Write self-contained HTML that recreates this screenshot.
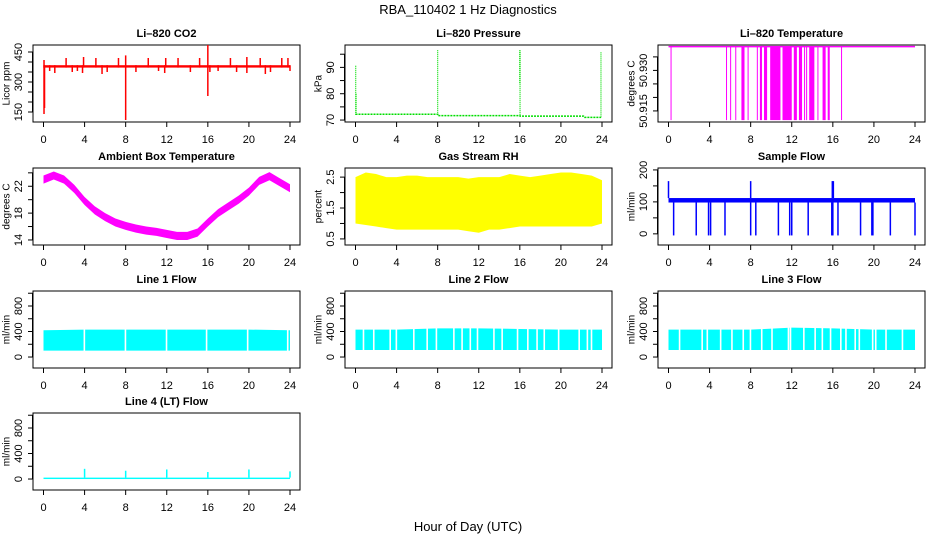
<!DOCTYPE html>
<html><head><meta charset="utf-8"><style>
html,body{margin:0;padding:0;background:#fff;}
svg{display:block;font-family:"Liberation Sans",sans-serif;}
</style></head><body>
<svg id="chart" width="936" height="540" viewBox="0 0 936 540" xmlns="http://www.w3.org/2000/svg">
<text x="468" y="14" text-anchor="middle" font-size="13">RBA_110402  1 Hz Diagnostics</text>
<text x="468" y="531" text-anchor="middle" font-size="13">Hour of Day (UTC)</text>
</svg>
<script>
const xTicks=[0,4,8,12,16,20,24];
// CO2
const co2BaseLo=372, co2BaseHi=384;
const co2Up=[[0.05,410],[2.2,420],[3.9,425],[5.1,420],[7.3,420],[8.0,433],[10.2,420],[11.9,420],[13.1,420],[15.2,420],[16.0,485],[18.2,420],[19.8,425],[21.1,420],[23.2,420],[23.8,420]];
const co2Down=[[0.05,140],[0.1,170],[0.6,355],[1.1,345],[2.8,350],[3.3,355],[3.8,345],[5.7,340],[6.2,350],[8.0,110],[9.0,350],[11.2,355],[11.8,345],[14.3,350],[16.0,230],[16.2,350],[17.0,355],[18.8,350],[19.8,345],[21.6,340],[22.1,350],[24.0,355]];
// Pressure
const presHours=[0,0.1,8,8.02,16,16.02,22.2,22.3,23.9];
const presVals=[72.2,72.2,72.2,71.7,71.7,71.5,71.5,71.0,71.0];
const presSpikes=[[0.02,72,91],[0.06,72,80],[8.0,72,96.6],[16.0,84,96.5],[16.02,72,96.5],[23.9,71,96]];
// Temperature
const tempTop=50.9388, tempBottom=50.9116;
const tempSpikes=[[0.2,0.25],[5.6,5.65],[6.0,6.05],[6.5,6.55],[7.1,7.4],[7.7,7.8],[8.6,8.65],[8.9,9.1],[9.3,9.6],[9.9,10.9],[11.1,12.0],[12.2,12.5],[12.7,13.0],[13.2,13.25],[13.4,13.45],[13.7,14.2],[14.5,14.55],[15.0,15.3],[15.5,15.7],[16.8,16.85]];
// Ambient temperature
const ambHours=[0,1,2,3,4,5,6,7,8,9,10,11,12,13,14,15,16,17,18,19,20,21,22,23,24];
const ambVals=[23.0,23.6,23.0,21.6,19.8,18.4,17.4,16.6,16.1,15.7,15.4,15.2,14.9,14.6,14.6,15.1,16.6,18.0,19.0,20.0,21.2,22.8,23.5,22.6,21.7];
// RH
const rhHours=[0,1,2,3,4,5,6,7,8,9,10,11,12,13,14,15,16,17,18,19,20,21,22,23,24];
const rhUpper=[2.5,2.65,2.6,2.5,2.5,2.55,2.55,2.5,2.5,2.5,2.5,2.45,2.5,2.5,2.5,2.6,2.55,2.5,2.55,2.6,2.65,2.65,2.6,2.55,2.4];
const rhLower=[1.0,0.95,0.9,0.85,0.8,0.8,0.8,0.8,0.8,0.8,0.8,0.75,0.7,0.8,0.8,0.85,0.9,0.9,0.9,0.9,0.9,0.9,0.9,0.9,1.0];
// Sample flow
const sfLo=98, sfHi=112;
const sfDown=[0.5,2.7,3.9,4.1,5.5,8.0,8.5,10.7,11.8,12.0,13.6,15.9,16.0,16.5,18.7,19.8,19.9,21.6,24.0];
const sfUp=[[0,165],[8.0,165],[15.95,165],[16.05,165]];
// Line flows
const l1Upper=[420,430,430,430,430,430,420];
const l1Lower=[100,100,100,100,100,100,100];
const l1Gaps=[3.9,7.9,11.9,15.8,19.8,23.7];
const l2Upper=[430,430,450,450,440,430,430];
const l2Lower=[110,110,110,110,110,110,110];
const l2Gaps=[0.7,1.7,3.3,3.9,5.6,6.9,7.8,9.5,10.3,11.1,11.8,13.4,14.2,15.7,16.7,17.6,18.3,19.7,21.7,22.5,22.9];
const l3Upper=[430,430,430,460,450,430,430];
const l3Lower=[110,110,110,110,110,110,110];
const l3Gaps=[1.0,3.2,3.7,5.0,6.1,7.2,7.9,9.0,10.0,11.6,11.8,13.1,14.2,14.9,15.7,16.7,17.2,18.1,18.5,19.8,20.1,21.1,22.7];
const l4Lo=0, l4Hi=22;
const l4Spikes=[[4,160],[8,130],[12,150],[16,110],[20,150],[24,120]];

const NS='http://www.w3.org/2000/svg';
const svg=document.getElementById('chart');
function el(tag,attrs,parent){const e=document.createElementNS(NS,tag);for(const k in attrs)e.setAttribute(k,attrs[k]);(parent||svg).appendChild(e);return e;}
const colX=[33,345,658], rowY=[45,168,291,413], W=267, H=77;

function panel(col,row,title,ylab,ymin,ymax,ticks,labels,name){
  const g=el('g',{});
  
  
  const bx=colX[col], by=rowY[row];
  const xs=h=>bx+10.5+h*(W-20.5)/24;
  const ys=v=>by+H-(v-ymin)/(ymax-ymin)*H;
  const t=el('text',{x:bx+W/2,y:by-8,'text-anchor':'middle','font-size':11,'font-weight':'bold'},g);
  t.textContent=title;
  
  
  const box=el('rect',{x:bx,y:by,width:W,height:H,fill:'none',stroke:'#000','stroke-width':1},g);
  
  
  const dg=el('g',{},g);
  
  
  // x axis
  const xa=el('g',{stroke:'#000','stroke-width':1},g);
  
  
  el('line',{x1:xs(0),x2:xs(24),y1:by+H,y2:by+H},xa);
  xTicks.forEach(h=>{
    el('line',{x1:xs(h),x2:xs(h),y1:by+H,y2:by+H+5},xa);
    const tx=el('text',{x:xs(h),y:by+H+21,'text-anchor':'middle','font-size':11,stroke:'none'},xa);
    tx.textContent=h;
    
    
  });
  // y axis
  const ya=el('g',{stroke:'#000','stroke-width':1},g);
  
  
  el('line',{x1:bx-0.5,x2:bx-0.5,y1:ys(ticks[0]),y2:ys(ticks[ticks.length-1])},ya);
  ticks.forEach(v=>el('line',{x1:bx-5,x2:bx,y1:ys(v),y2:ys(v)},ya));
  labels.forEach(v=>{
    const y=ys(v), x=bx-14;
    const tx=el('text',{x:x,y:y,'text-anchor':'middle','dominant-baseline':'central','font-size':11,stroke:'none',transform:`rotate(-90 ${x} ${y})`},ya);
    tx.textContent=String(v);
    
    
  });
  const yx=bx-26, yy=by+H/2;
  const yt=el('text',{x:yx,y:yy,'text-anchor':'middle','dominant-baseline':'central','font-size':10,transform:`rotate(-90 ${yx} ${yy})`},g);
  yt.textContent=ylab;
  
  
  return {xs,ys,g:dg};
}
function vline(p,h,a,b,color,w){return el('line',{x1:p.xs(h),x2:p.xs(h),y1:p.ys(a),y2:p.ys(b),stroke:color,'stroke-width':w||1.3},p.g);}
function band(p,hrs,up,lo,color){
  let d='M'+hrs.map((h,i)=>p.xs(h)+','+p.ys(up[i])).join('L');
  for(let i=hrs.length-1;i>=0;i--)d+='L'+p.xs(hrs[i])+','+p.ys(lo[i]);
  return el('path',{d:d+'Z',fill:color},p.g);
}

// CO2
let p=panel(0,0,'Li–820 CO2','Licor ppm',100,485,[150,200,250,300,350,400,450],[150,300,450],'co2');
co2Up.forEach(s=>vline(p,s[0],co2BaseLo,s[1],'#f00',1.5));
co2Down.forEach(s=>vline(p,s[0],co2BaseHi,s[1],'#f00',1.5));
el('rect',{x:p.xs(0),y:p.ys(co2BaseHi),width:p.xs(24)-p.xs(0),height:p.ys(co2BaseLo)-p.ys(co2BaseHi),fill:'#f00'},p.g);

// Pressure
p=panel(1,0,'Li–820 Pressure','kPa',69.26,98.5,[70,75,80,85,90,95],[70,80,90],'pressure');
el('polyline',{points:presHours.map((h,i)=>p.xs(h)+','+p.ys(presVals[i])).join(' '),fill:'none',stroke:'#00dd00','stroke-width':1.5,'stroke-dasharray':'2,1'},p.g);
presSpikes.forEach(s=>{const l=vline(p,s[0],s[1],s[2],'#00dd00',1.2);l.setAttribute('stroke-dasharray','1,1');});

// Temperature
p=panel(2,0,'Li–820 Temperature','degrees C',50.9109,50.9394,[50.915,50.92,50.925,50.93,50.935],[],'temperature');
[[50.915,'50.915'],[50.93,'50.930']].forEach(v=>{
  const x=colX[2]-14,y=p.ys(v[0]);
  const tx=el('text',{x:x,y:y,'text-anchor':'middle','dominant-baseline':'central','font-size':11,transform:`rotate(-90 ${x} ${y})`});
  tx.textContent=v[1];
  
  
});
el('line',{x1:p.xs(0),x2:p.xs(24),y1:p.ys(tempTop),y2:p.ys(tempTop),stroke:'#f0f','stroke-width':1.5},p.g);
tempSpikes.forEach(s=>el('rect',{x:p.xs(s[0]),y:p.ys(tempTop),width:Math.max(1,p.xs(s[1])-p.xs(s[0])),height:p.ys(tempBottom)-p.ys(tempTop),fill:'#f0f'},p.g));

// Ambient
p=panel(0,1,'Ambient Box Temperature','degrees C',13.25,24.72,[14,16,18,20,22,24],[14,18,22],'ambient');
band(p,ambHours,ambVals.map(v=>v+0.6),ambVals.map(v=>v-0.6),'#f0f');

// RH
p=panel(1,1,'Gas Stream RH','percent',0.303,2.795,[0.5,1,1.5,2,2.5],[0.5,1.5,2.5],'rh');
band(p,rhHours,rhUpper,rhLower,'#ff0');

// Sample flow
p=panel(2,1,'Sample Flow','ml/min',-34.9,206,[0,50,100,150,200],[0,100,200],'sample-flow');
el('rect',{x:p.xs(0),y:p.ys(sfHi),width:p.xs(24)-p.xs(0),height:p.ys(sfLo)-p.ys(sfHi),fill:'#00f'},p.g);
sfDown.forEach(h=>vline(p,h,sfLo,-5,'#00f',1.5));
sfUp.forEach(s=>vline(p,s[0],sfHi,s[1],'#00f',1.5));

// Line flows
const lineHours=[0,4,8,12,16,20,24];
[[0,'Line 1 Flow',l1Upper,l1Lower,l1Gaps,'line1-flow'],[1,'Line 2 Flow',l2Upper,l2Lower,l2Gaps,'line2-flow'],[2,'Line 3 Flow',l3Upper,l3Lower,l3Gaps,'line3-flow']].forEach(c=>{
  const q=panel(c[0],2,c[1],'ml/min',-172,1035,[0,200,400,600,800,1000],[0,400,800],c[5]);
  band(q,lineHours,c[2],c[3],'#0ff');
  c[4].forEach(h=>el('rect',{x:q.xs(h),y:q.ys(500),width:1.6,height:q.ys(50)-q.ys(500),fill:'#fff'},q.g));
});
p=panel(0,3,'Line 4 (LT) Flow','ml/min',-172,1035,[0,200,400,600,800,1000],[0,400,800],'line4-flow');
el('rect',{x:p.xs(0),y:p.ys(l4Hi),width:p.xs(24)-p.xs(0),height:p.ys(l4Lo)-p.ys(l4Hi),fill:'#0ff'},p.g);
l4Spikes.forEach(s=>vline(p,s[0],l4Hi,s[1],'#0ff',1.5));
</script>
</body></html>
